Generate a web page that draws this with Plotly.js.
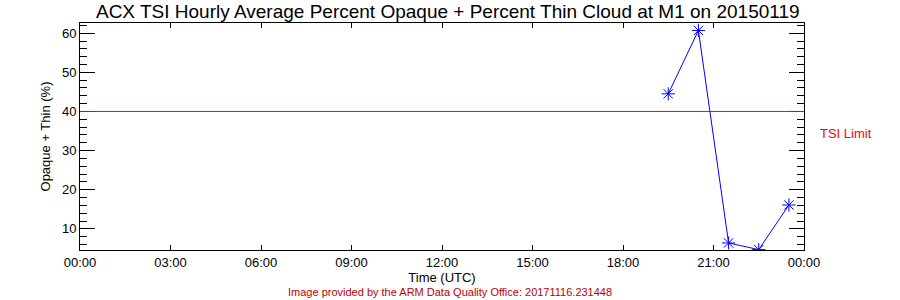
<!DOCTYPE html>
<html>
<head>
<meta charset="utf-8">
<script src="https://cdn.plot.ly/plotly-3.0.1.min.js"></script>
<style>html,body{margin:0;padding:0;background:#fff;}#chart{width:900px;height:300px;}</style>
</head>
<body>
<div id="chart"></div>
<script>
const times = ["2015-01-19 19:30", "2015-01-19 20:30", "2015-01-19 21:30", "2015-01-19 22:30", "2015-01-19 23:30"];
const cloudPct = [44.5, 60.7, 6.4, 4.7, 16.1];
const tsiLimit = 40;
const yRange = [4.6, 62.6];
const xRange = ["2015-01-19 00:00", "2015-01-20 00:00"];
const titleText = "ACX TSI Hourly Average Percent Opaque + Percent Thin Cloud at M1 on 20150119";
const creditText = "Image provided by the ARM Data Quality Office: 20171116.231448";

const font = "Liberation Sans, DejaVu Sans, sans-serif";

const trace = {
  x: times, y: cloudPct, type: "scatter", mode: "lines+markers",
  line: {color: "#0000ff", width: 1},
  marker: {symbol: "asterisk-open", size: 11, color: "#0000ff", line: {color: "#0000ff", width: 1}},
  hoverinfo: "skip", showlegend: false
};

const layout = {
  width: 900, height: 300,
  margin: {l: 80, r: 96, t: 23, b: 50},
  paper_bgcolor: "#fff", plot_bgcolor: "#fff",
  title: {text: titleText, font: {family: font, size: 19, color: "#000"}, x: 0.508, xanchor: "center", xref: "paper", y: 1 - 11/300, yanchor: "middle", yref: "container"},
  xaxis: {
    type: "date", range: xRange, dtick: 3*3600*1000, tick0: "2015-01-19 00:00", tickformat: "%H:%M",
    ticks: "inside", ticklen: 5, tickcolor: "#000", tickwidth: 1,
    showline: true, linecolor: "#000", linewidth: 1, mirror: "ticks",
    showgrid: false, zeroline: false,
    tickfont: {family: font, size: 13, color: "#000"},
    title: {text: "Time (UTC)", font: {family: font, size: 13, color: "#000"}, standoff: 4}
  },
  yaxis: {
    range: yRange, dtick: 10, tick0: 0,
    ticks: "inside", ticklen: 15, tickcolor: "#000", tickwidth: 1,
    minor: {dtick: 2, tick0: 0, ticks: "inside", ticklen: 7, tickcolor: "#000", tickwidth: 1},
    showline: true, linecolor: "#000", linewidth: 1, mirror: "ticks",
    showgrid: false, zeroline: false,
    tickfont: {family: font, size: 13, color: "#000"},
    title: {text: "Opaque + Thin (%)", font: {family: font, size: 13, color: "#000"}, standoff: 8}
  },
  shapes: [{type: "line", xref: "paper", x0: 0, x1: 1, yref: "y", y0: tsiLimit, y1: tsiLimit, line: {color: "#ff0000", width: 1}}],
  annotations: [
    {text: "TSI Limit", xref: "paper", x: 1, xshift: 14, xanchor: "left", yref: "paper", y: 1 - (133-23)/227, yanchor: "middle", showarrow: false, font: {family: font, size: 13, color: "#ff0000"}},
    {text: creditText, xref: "paper", x: (450-80)/724, xanchor: "center", yref: "paper", y: -(292-250)/227, yanchor: "middle", showarrow: false, font: {family: font, size: 11, color: "#c00000"}}
  ]
};

Plotly.newPlot("chart", [trace], layout, {staticPlot: true, displayModeBar: false});
</script>
</body>
</html>
